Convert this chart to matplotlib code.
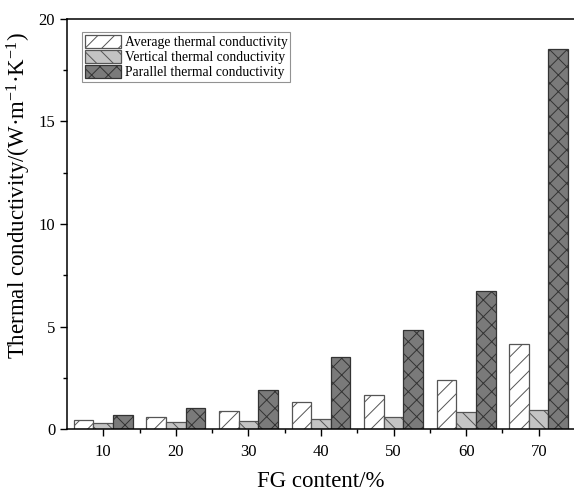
import numpy as np
import matplotlib
matplotlib.use("Agg")
import matplotlib.pyplot as plt

# =========================================================
# 数据
# =========================================================
fg_content = [10, 20, 30, 40, 50, 60, 70]
average_tc = [0.44, 0.60, 0.88, 1.30, 1.67, 2.39, 4.15]
vertical_tc = [0.28, 0.36, 0.39, 0.47, 0.57, 0.83, 0.94]
parallel_tc = [0.68, 1.01, 1.90, 3.50, 4.81, 6.75, 18.52]

series_labels = ["Average thermal conductivity",
                 "Vertical thermal conductivity",
                 "Parallel thermal conductivity"]

# =========================================================
# 绘图
# =========================================================
plt.rcParams["font.family"] = ["Liberation Serif", "DejaVu Serif"]
plt.rcParams["mathtext.fontset"] = "custom"
plt.rcParams["mathtext.rm"] = "Liberation Serif"
plt.rcParams["mathtext.it"] = "Liberation Serif:italic"
plt.rcParams["hatch.linewidth"] = 0.7

fig = plt.figure(figsize=(5.74, 4.92), dpi=100)
ax = fig.add_axes([0.1167, 0.128, 0.885, 0.8334])

x = np.array(fg_content, dtype=float)
w = 2.7

styles = [
    dict(color="white", hatch="//", edgecolor="#555555"),
    dict(color="#c4c4c4", hatch="\\\\", edgecolor="#555555"),
    dict(color="#7a7a7a", hatch="xx", edgecolor="#333333"),
]
data = [average_tc, vertical_tc, parallel_tc]

for i, (vals, st, lab) in enumerate(zip(data, styles, series_labels)):
    ax.bar(x + (i - 1) * w, vals, width=w, color=st["color"],
           edgecolor=st["edgecolor"], hatch=st["hatch"],
           linewidth=0.9, label=lab, zorder=2)

ax.set_xlim(5, 75)
ax.set_ylim(0, 20)
ax.set_xticks(fg_content)
ax.set_xticks([15, 25, 35, 45, 55, 65], minor=True)
ax.set_yticks([0, 5, 10, 15, 20])
ax.set_yticks([2.5, 7.5, 12.5, 17.5], minor=True)

ax.tick_params(axis="both", which="major", direction="out", length=5,
               width=1, labelsize=12)
ax.tick_params(axis="x", which="major", pad=6)
ax.tick_params(axis="both", which="minor", direction="out", length=3, width=1)
ax.spines["right"].set_visible(False)
for s in ["left", "bottom", "top"]:
    ax.spines[s].set_linewidth(1.1)

ax.set_xlabel("FG content/%", fontsize=16.5, labelpad=7.5)
ax.set_ylabel("Thermal conductivity/(W·m$^{-1}$·K$^{-1}$)", fontsize=16.5)
ax.yaxis.set_label_coords(-0.067, 0.57)

leg = ax.legend(loc="upper left", bbox_to_anchor=(0.025, 0.975), fontsize=9.8,
                frameon=True, fancybox=False, edgecolor="#777777",
                handlelength=2.6, handleheight=1.15, handletextpad=0.3,
                labelspacing=0.05, borderpad=0.2, borderaxespad=0.2)
leg.get_frame().set_linewidth(0.8)

fig.savefig("out.png", dpi=100)
